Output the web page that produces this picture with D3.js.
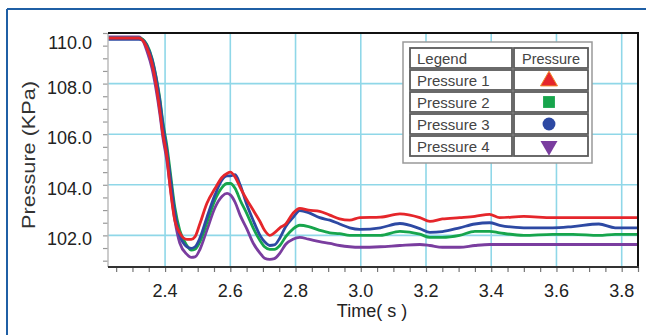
<!DOCTYPE html>
<html><head><meta charset="utf-8">
<script src="https://cdn.jsdelivr.net/npm/d3@7"></script>
<style>html,body{margin:0;padding:0;background:#fff;}svg{display:block;font-family:"Liberation Sans",Arial,sans-serif;}</style>
</head><body>
<script>
// ---- data ----
const times = [2.225,2.32,2.332,2.344,2.36,2.372,2.384,2.393,2.406,2.415,2.43,2.445,2.467,2.48,2.492,2.507,2.528,2.553,2.575,2.59,2.6,2.615,2.63,2.651,2.67,2.691,2.705,2.721,2.735,2.752,2.77,2.792,2.813,2.84,2.874,2.905,2.935,2.966,2.997,3.06,3.12,3.181,3.212,3.25,3.303,3.35,3.395,3.426,3.5,3.588,3.65,3.73,3.78,3.85];
const pressure1 = [109.8,109.8,109.7,109.42,108.79,108.0,106.93,106.03,105.08,103.97,102.59,102.1,101.84,101.84,101.95,102.47,103.26,103.85,104.3,104.45,104.5,104.3,103.9,103.4,103.0,102.55,102.2,102.0,102.1,102.3,102.45,102.87,103.07,103.0,102.95,102.8,102.65,102.6,102.7,102.72,102.85,102.7,102.55,102.65,102.7,102.75,102.83,102.7,102.75,102.7,102.7,102.7,102.7,102.7];
const pressure2 = [109.8,109.8,109.75,109.55,109.0,108.3,107.4,106.5,105.5,104.6,103.1,102.2,101.6,101.42,101.45,101.75,102.5,103.4,103.9,104.05,104.05,103.85,103.4,102.85,102.3,101.8,101.55,101.45,101.45,101.6,101.95,102.25,102.4,102.35,102.2,102.1,102.07,102.0,102.0,102.0,102.16,102.05,101.92,101.92,102.0,102.16,102.16,102.1,102.0,102.04,102.04,102.0,102.04,102.04];
const pressure3 = [109.75,109.75,109.72,109.5,108.95,108.25,107.3,106.4,105.3,104.4,102.9,102.0,101.55,101.49,101.55,101.9,102.7,103.6,104.2,104.35,104.35,104.4,104.0,103.2,102.6,102.0,101.75,101.6,101.62,101.9,102.35,102.7,102.98,102.9,102.7,102.6,102.45,102.3,102.24,102.3,102.47,102.27,102.12,102.15,102.3,102.45,102.5,102.4,102.3,102.3,102.35,102.45,102.3,102.3];
const pressure4 = [109.85,109.85,109.7,109.3,108.6,107.8,106.8,105.9,104.9,104.0,102.6,101.7,101.25,101.13,101.15,101.45,102.2,103.1,103.55,103.66,103.6,103.3,102.8,102.25,101.7,101.3,101.1,101.05,101.08,101.3,101.65,101.85,101.92,101.85,101.75,101.68,101.6,101.55,101.53,101.55,101.6,101.64,101.6,101.53,101.53,101.6,101.64,101.64,101.64,101.64,101.64,101.64,101.64,101.64];
const seriesNames = ["Pressure 1","Pressure 2","Pressure 3","Pressure 4"];
const seriesColors = ["#e5262b","#17a54c","#2d49a3","#7a3d9f"];
const xTickLabels = [2.4,2.6,2.8,3.0,3.2,3.4,3.6,3.8];
const yTickLabels = [102,104,106,108,110];
const xDomain = [2.225,3.85];
const yDomain = [100.75,110];

const W=646,H=335;
const m={l:108,t:33,r:638,b:267};
const svg=d3.select("body").append("svg").attr("width",W).attr("height",H);

// outer frame
svg.append("line").attr("x1",7).attr("x2",W).attr("y1",9).attr("y2",9).attr("stroke","#1f5fa5").attr("stroke-width",2);
svg.append("line").attr("x1",7).attr("x2",7).attr("y1",9).attr("y2",H).attr("stroke","#1f5fa5").attr("stroke-width",2);

const x=d3.scaleLinear().domain(xDomain).range([m.l,m.r]);
const y=d3.scaleLinear().domain(yDomain).range([m.b,m.t]);

// grid
const g=svg.append("g");
g.selectAll(".vg").data(xTickLabels).join("line")
 .attr("x1",d=>x(d)).attr("x2",d=>x(d)).attr("y1",m.t).attr("y2",m.b)
 .attr("stroke","#8fd7e8").attr("stroke-width",1.6);
g.selectAll(".hg").data(yTickLabels.filter(v=>v<110)).join("line")
 .attr("x1",m.l).attr("x2",m.r).attr("y1",d=>y(d)).attr("y2",d=>y(d))
 .attr("stroke","#8fd7e8").attr("stroke-width",1.6);

// minor ticks via d3 axes
const xMinor=d3.range(2.25,3.851,0.05);
const xAxis=d3.axisBottom(x).tickValues(xMinor).tickSize(5).tickFormat("");
const ax=svg.append("g").attr("transform",`translate(0,${m.b})`).call(xAxis);
ax.select(".domain").remove();
ax.selectAll(".tick line").attr("stroke","#777").attr("stroke-width",1.2);

const yMinor=d3.range(101,110.01,0.5);
const yAxis=d3.axisLeft(y).tickValues(yMinor).tickSize(5).tickFormat("");
const ay=svg.append("g").attr("transform",`translate(${m.l},0)`).call(yAxis);
ay.select(".domain").remove();
ay.selectAll(".tick line").attr("stroke","#999").attr("stroke-width",1.2);

// tick labels
svg.selectAll(".xl").data(xTickLabels).join("text")
 .attr("x",d=>x(d)).attr("y",m.b+30).attr("text-anchor","middle")
 .attr("font-size",18).attr("fill","#222").text(d=>d.toFixed(1));
svg.selectAll(".yl").data(yTickLabels).join("text")
 .attr("x",92).attr("y",d=>Math.max(y(d),39)+10).attr("text-anchor","end")
 .attr("font-size",18).attr("fill","#222").text(d=>d.toFixed(1));

// lines
svg.append("clipPath").attr("id","c").append("rect").attr("x",m.l).attr("y",m.t).attr("width",m.r-m.l).attr("height",m.b-m.t);
const all=[pressure1,pressure2,pressure3,pressure4];
const line=d3.line().x((d,i)=>x(times[i])).y(d=>y(d)).curve(d3.curveMonotoneX);
const lg=svg.append("g").attr("clip-path","url(#c)");
[3,1,2,0].forEach(k=>{
  lg.append("path").datum(all[k]).attr("d",line).attr("fill","none")
   .attr("stroke",seriesColors[k]).attr("stroke-width",2.8).attr("stroke-linejoin","round");
});

// borders
svg.append("line").attr("x1",m.l).attr("x2",m.l).attr("y1",m.t).attr("y2",m.b).attr("stroke","#bbb").attr("stroke-width",1.5);
svg.append("line").attr("x1",m.l).attr("x2",m.r+1).attr("y1",m.t).attr("y2",m.t).attr("stroke","#111").attr("stroke-width",2);
svg.append("line").attr("x1",m.r).attr("x2",m.r).attr("y1",m.t).attr("y2",m.b).attr("stroke","#111").attr("stroke-width",2);
svg.append("line").attr("x1",m.l).attr("x2",m.r+1).attr("y1",m.b).attr("y2",m.b).attr("stroke","#333").attr("stroke-width",2);

// axis titles
svg.append("text").attr("x",372).attr("y",317).attr("text-anchor","middle").attr("font-size",18).attr("fill","#222").text("Time( s )");
svg.append("text").attr("transform","translate(35,155) rotate(-90)").attr("text-anchor","middle")
 .attr("font-size",19).attr("fill","#333").attr("textLength",148).attr("lengthAdjust","spacingAndGlyphs").text("Pressure (KPa)");

// legend
const L=svg.append("g");
L.append("rect").attr("x",403).attr("y",42).attr("width",189).attr("height",121).attr("fill","#fff").attr("stroke","#999").attr("stroke-width",1.5);
const cellStroke="#5a5a5a";
L.append("rect").attr("x",410).attr("y",48).attr("width",102).attr("height",20).attr("fill","#fff").attr("stroke",cellStroke).attr("stroke-width",1.8);
L.append("rect").attr("x",514).attr("y",48).attr("width",74).attr("height",20).attr("fill","#fff").attr("stroke",cellStroke).attr("stroke-width",1.8);
L.append("text").attr("x",417).attr("y",64).attr("font-size",15).attr("fill","#444").text("Legend");
L.append("text").attr("x",551).attr("y",64).attr("text-anchor","middle").attr("font-size",14.5).attr("fill","#444").text("Pressure");
const sym=[d3.symbolTriangle,d3.symbolSquare,d3.symbolCircle,d3.symbolTriangle];
seriesNames.forEach((n,i)=>{
  const yy=70+22*i;
  L.append("rect").attr("x",410).attr("y",yy).attr("width",102).attr("height",20).attr("fill","#fff").attr("stroke",cellStroke).attr("stroke-width",1.8);
  L.append("rect").attr("x",514).attr("y",yy).attr("width",74).attr("height",20).attr("fill","#fff").attr("stroke",cellStroke).attr("stroke-width",1.8);
  L.append("text").attr("x",417).attr("y",yy+16).attr("font-size",15).attr("fill","#444").text(n);
  const s=d3.symbol().type(sym[i]).size(i===2?130:(i===1?140:125));
  L.append("path").attr("d",s()).attr("fill",seriesColors[i])
   .attr("stroke",i===0?"#f08a2a":"none").attr("stroke-width",1)
   .attr("transform",`translate(549,${yy+10+(i===0?1:0)}) rotate(${i===3?180:0})`);
});
</script>
</body></html>
